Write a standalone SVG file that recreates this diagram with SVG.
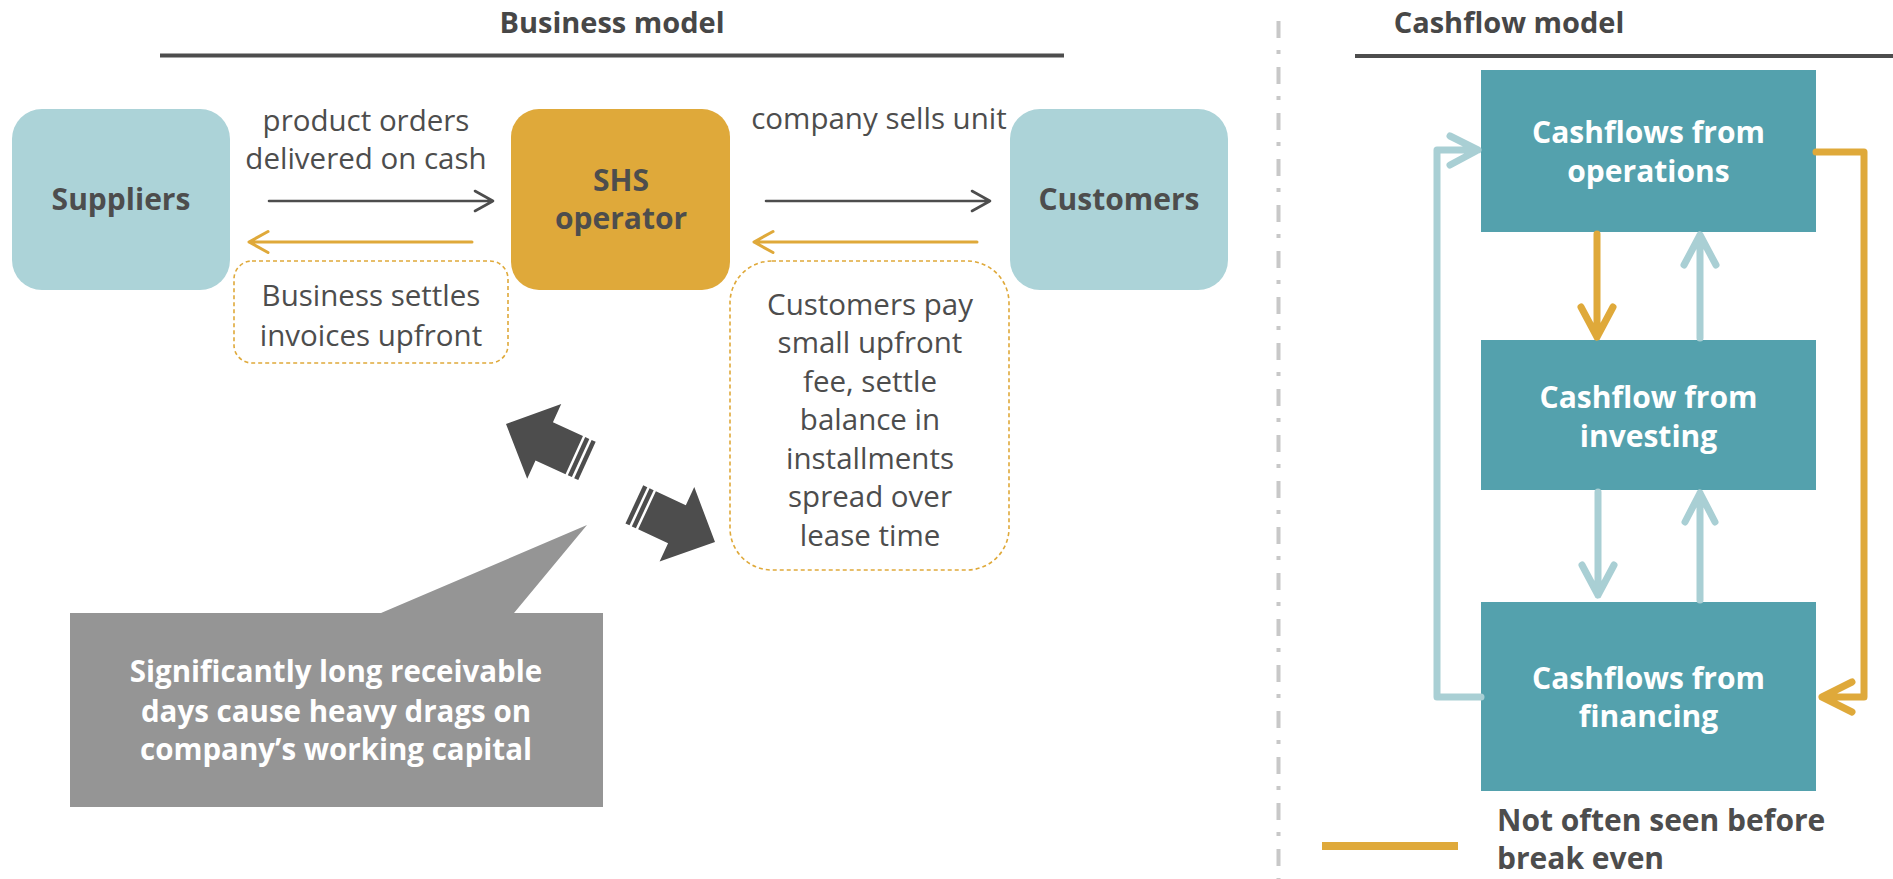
<svg xmlns="http://www.w3.org/2000/svg" width="1893" height="879" viewBox="0 0 1893 879">
<style>
.t{font-family:"Open Sans","Noto Sans","Liberation Sans",sans-serif;fill:#4d4d4d;text-anchor:middle}
.r{font-size:29.5px}
.b{font-weight:700;font-size:30px}
.h{font-weight:700;font-size:29px;fill:#474747}
.w{fill:#ffffff}
.lb{fill:#acd3d8}
.teal{fill:#54a1ad}
.dash{fill:none;stroke:#dfa93a;stroke-width:1.6;stroke-dasharray:4 3}
.k{fill:none;stroke:#4d4d4d;stroke-width:2.6;stroke-linecap:round;stroke-linejoin:round}
.o{fill:none;stroke:#dfa93a;stroke-width:3;stroke-linecap:round;stroke-linejoin:round}
.co{fill:none;stroke:#dfa93a;stroke-width:7;stroke-linecap:round;stroke-linejoin:round}
.cb{fill:none;stroke:#a9cfd4;stroke-width:7;stroke-linecap:round;stroke-linejoin:round}
</style>
<defs>
<g id="blk">
<path d="M0,0 L42,-41 L42,-21 L75,-21 L75,21 L42,21 L42,41 Z" fill="#4d4d4d"/>
<rect x="77.5" y="-21" width="4.5" height="42" fill="#4d4d4d"/>
<rect x="84.5" y="-21" width="4.5" height="42" fill="#4d4d4d"/>
</g>
</defs>
<rect width="1893" height="879" fill="#ffffff"/>

<g id="titles">
<text class="t h" x="612" y="33">Business model</text>
<line x1="160" y1="55.5" x2="1064" y2="55.5" stroke="#4d4d4d" stroke-width="4"/>
<text class="t h" x="1509" y="33">Cashflow model</text>
<line x1="1355" y1="56" x2="1893" y2="56" stroke="#4d4d4d" stroke-width="4"/>
<line x1="1278.5" y1="21" x2="1278.5" y2="879" stroke="#c8c8c8" stroke-width="4" stroke-dasharray="17 12 4 13"/>
</g>

<g id="suppliers">
<rect class="lb" x="12" y="109" width="218" height="181" rx="30"/>
<text class="t b" x="121" y="210">Suppliers</text>
</g>
<g id="shs-operator">
<rect x="511" y="109" width="219" height="181" rx="28" fill="#dfa93a"/>
<text class="t b" x="621" y="191">SHS</text>
<text class="t b" x="621" y="229">operator</text>
</g>
<g id="customers">
<rect class="lb" x="1010" y="109" width="218" height="181" rx="30"/>
<text class="t b" x="1119" y="210">Customers</text>
</g>

<g id="label-orders">
<text class="t r" x="366" y="131">product orders</text>
<text class="t r" x="366" y="169">delivered on cash</text>
</g>
<g id="label-sells">
<text class="t r" x="879" y="129">company sells unit</text>
</g>
<g id="note-settles">
<rect class="dash" x="234" y="261" width="274" height="102" rx="18"/>
<text class="t r" x="371" y="306">Business settles</text>
<text class="t r" x="371" y="346">invoices upfront</text>
</g>
<g id="note-customers">
<rect class="dash" x="730" y="261" width="279" height="309" rx="42"/>
<text class="t r" x="870" y="315">Customers pay</text>
<text class="t r" x="870" y="353">small upfront</text>
<text class="t r" x="870" y="391.5">fee, settle</text>
<text class="t r" x="870" y="430">balance in</text>
<text class="t r" x="870" y="468.5">installments</text>
<text class="t r" x="870" y="507">spread over</text>
<text class="t r" x="870" y="545.5">lease time</text>
</g>

<g id="block-arrows">
<use href="#blk" transform="translate(506,424) rotate(24.5)"/>
<use href="#blk" transform="translate(715,542) rotate(205)"/>
</g>

<g id="callout">
<path d="M70,613 L381,613 L587,525 L514,613 L603,613 L603,807 L70,807 Z" fill="#959595"/>
<text class="t b w" x="336" y="682" style="font-size:29.5px">Significantly long receivable</text>
<text class="t b w" x="336" y="722" style="font-size:29.5px">days cause heavy drags on</text>
<text class="t b w" x="336" y="760" style="font-size:29.5px">company’s working capital</text>
</g>

<g id="cf-operations">
<rect class="teal" x="1481" y="70" width="335" height="162"/>
<text class="t b w" x="1648.5" y="143">Cashflows from</text>
<text class="t b w" x="1648.5" y="182">operations</text>
</g>
<g id="cf-investing">
<rect class="teal" x="1481" y="340" width="335" height="150"/>
<text class="t b w" x="1648.5" y="408">Cashflow from</text>
<text class="t b w" x="1648.5" y="447">investing</text>
</g>
<g id="cf-financing">
<rect class="teal" x="1481" y="602" width="335" height="189"/>
<text class="t b w" x="1648.5" y="689">Cashflows from</text>
<text class="t b w" x="1648.5" y="727">financing</text>
</g>

<g id="connectors">
<path class="k" d="M269,201 L493,201 M475,191 L493,201 L475,211"/>
<path class="k" d="M766,201 L990,201 M972,191 L990,201 L972,211"/>
<path class="o" d="M472,242 L249,242 M268,231.5 L249,242 L268,252.5"/>
<path class="o" d="M977,242 L754,242 M773,231.5 L754,242 L773,252.5"/>
<path class="co" d="M1597,234 L1597,337 M1581,307 L1597,337 L1613,307"/>
<path class="cb" d="M1700,338 L1700,235 M1684,265 L1700,235 L1716,265"/>
<path class="cb" d="M1598,492 L1598,595 M1582,565 L1598,595 L1614,565"/>
<path class="cb" d="M1700,600 L1700,493 M1685,522 L1700,493 L1715,522"/>
<path class="cb" d="M1481,697 L1437,697 L1437,150 L1478,150 M1450,136 L1478,150 L1450,165"/>
<path class="co" d="M1816,152 L1864,152 L1864,697 L1822,697 M1852,682 L1822,697 L1852,712"/>
</g>

<g id="legend">
<line x1="1322" y1="846" x2="1458" y2="846" stroke="#dfa93a" stroke-width="8"/>
<text class="t b" x="1497" y="831" style="text-anchor:start">Not often seen before</text>
<text class="t b" x="1497" y="869" style="text-anchor:start">break even</text>
</g>
</svg>
